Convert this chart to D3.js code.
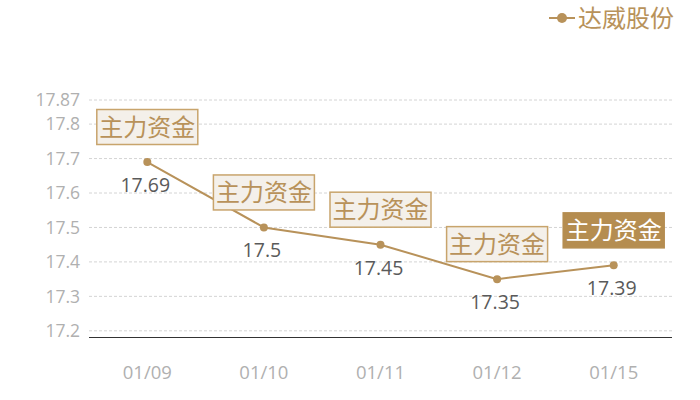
<!DOCTYPE html>
<html><head><meta charset="utf-8">
<script src="https://cdn.jsdelivr.net/npm/d3@7"></script>
<style>body{margin:0;background:#fff}svg{display:block}text{font-family:"Noto Sans CJK SC","Noto Sans",sans-serif}text.num{font-family:"Open Sans","Noto Sans",sans-serif}</style>
</head><body>
<svg id="c" width="700" height="400"></svg>
<script>
const categories = ["01/09","01/10","01/11","01/12","01/15"];
const values = [17.69,17.5,17.45,17.35,17.39];
const yTicks = [17.2,17.3,17.4,17.5,17.6,17.7,17.8,17.87];
const annotationText = "主力资金";
const highlighted = [false,false,false,false,true];
const seriesName = "达威股份";

const gold = "#b8925a";
const svg = d3.select("#c");
const x = d3.scaleBand().domain(categories).range([89,672]);
const y = d3.scaleLinear().domain([17.182,17.87]).range([337,100]);
const cx = d => x(d) + x.bandwidth()/2;

// grid
svg.append("g").selectAll("line").data(yTicks).join("line")
  .attr("x1",89).attr("x2",672).attr("y1",d=>y(d)).attr("y2",d=>y(d))
  .attr("stroke","#d4d4d4").attr("stroke-dasharray","3,2").attr("stroke-width",1);
// y labels
svg.append("g").selectAll("text").data(yTicks).join("text").attr("class","num")
  .attr("x",80).attr("y",d=>y(d)).attr("dy","0.36em").attr("text-anchor","end")
  .attr("fill","#b0b0b0").attr("font-size",17.5).text(d=>d);
// x axis line
svg.append("line").attr("x1",89).attr("x2",672).attr("y1",337.5).attr("y2",337.5).attr("stroke","#333").attr("stroke-width",1);
svg.append("g").selectAll("text").data(categories).join("text").attr("class","num")
  .attr("x",d=>cx(d)).attr("y",372).attr("dy","0.36em").attr("text-anchor","middle")
  .attr("fill","#b0b0b0").attr("font-size",18.5).text(d=>d);

const pts = categories.map((c,i)=>({c,v:values[i],h:highlighted[i]}));
// line
svg.append("path").datum(pts).attr("fill","none").attr("stroke",gold).attr("stroke-width",2)
  .attr("d",d3.line().x(d=>cx(d.c)).y(d=>y(d.v)));
svg.append("g").selectAll("circle").data(pts).join("circle")
  .attr("cx",d=>cx(d.c)).attr("cy",d=>y(d.v)).attr("r",4).attr("fill",gold);
// value labels
svg.append("g").selectAll("text").data(pts).join("text").attr("class","num")
  .attr("x",d=>cx(d.c)-2).attr("y",d=>y(d.v)+23).attr("dy","0.36em").attr("text-anchor","middle")
  .attr("fill","#5a5a5a").attr("font-size",19.5).text(d=>d.v);
// annotation boxes
const ann = svg.append("g").selectAll("g").data(pts).join("g")
  .attr("transform",d=>`translate(${cx(d.c)},${y(d.v)-35})`);
ann.append("rect").attr("x",-50.5).attr("y",-17.5).attr("width",101).attr("height",35)
  .attr("fill",d=>d.h?"#b58d50":"#f4f0ea").attr("stroke",d=>d.h?"#b58d50":"#c8a46c").attr("stroke-width",1.5);
ann.append("text").attr("text-anchor","middle").attr("dy","0.36em").attr("font-size",24)
  .attr("fill",d=>d.h?"#fff":gold).text(annotationText);

// legend
const lg = svg.append("g").attr("transform","translate(562,18)");
lg.append("line").attr("x1",-13).attr("x2",13).attr("stroke",gold).attr("stroke-width",2);
lg.append("circle").attr("r",5).attr("fill",gold);
lg.append("text").attr("x",16).attr("dy","0.36em").attr("font-size",24).attr("fill",gold).text(seriesName);
</script>
</body></html>
